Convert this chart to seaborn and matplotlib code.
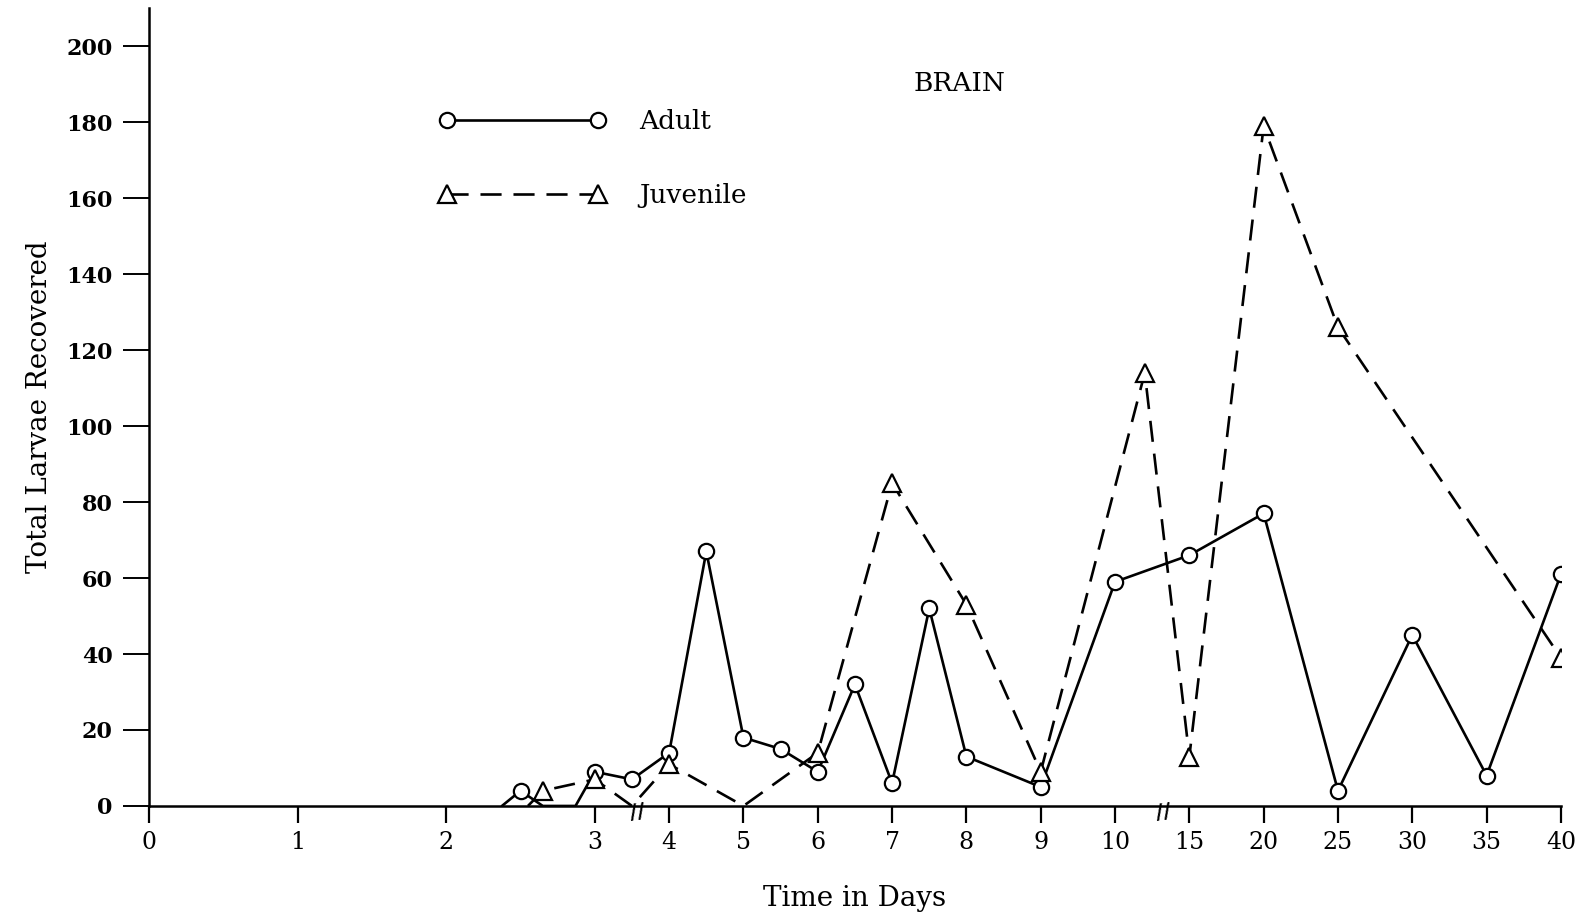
import numpy as np
import pandas as pd
import matplotlib
matplotlib.use("Agg")
import matplotlib.pyplot as plt
import seaborn as sns

# ---------------- data ----------------
tick_days = [0, 1, 2, 3, 4, 5, 6, 7, 8, 9, 10, 15, 20, 25, 30, 35, 40]
tick_labels = [str(d) for d in tick_days]
y_ticks = [0, 20, 40, 60, 80, 100, 120, 140, 160, 180, 200]

adult_days = [2.375, 2.5, 2.65, 2.87, 3, 3.5, 4, 4.5, 5, 5.5, 6, 6.5, 7, 7.5, 8, 9, 10, 15, 20, 25, 30, 35, 40]
adult_vals = [0, 4, 0, 0, 9, 7, 14, 67, 18, 15, 9, 32, 6, 52, 13, 5, 59, 66, 77, 4, 45, 8, 61]
adult_obs = [False, True, False, False, True, True, True, True, True, True, True, True, True, True, True, True, True, True, True, True, True, True, True]

juv_days = [2.55, 2.65, 3, 3.5, 4, 5, 6, 7, 8, 9, 12, 15, 20, 25, 40]
juv_vals = [0, 4, 7, 0, 11, 0, 14, 85, 53, 9, 114, 13, 179, 126, 39]
juv_obs = [False, True, True, False, True, False, True, True, True, True, True, True, True, True, True]

# ---------------- style ----------------
sns.set_style("white")
plt.rcParams['font.family'] = ['DejaVu Serif', 'DejaVu Sans']
plt.rcParams['text.color'] = 'black'
plt.rcParams['axes.labelcolor'] = 'black'

fig = plt.figure(figsize=(15.81, 9.14), dpi=100)
ax = fig.add_axes([0.0942, 0.1182, 0.8931, 0.8728])

# piecewise-linear broken time axis: each labelled tick is one slot,
# except 0-3 where days are two slots wide
tick_units = [0, 2, 4, 6, 7, 8, 9, 10, 11, 12, 13, 14, 15, 16, 17, 18, 19]
def fwd(x):
    return np.interp(x, tick_days, tick_units)
def inv(u):
    return np.interp(u, tick_units, tick_days)
ax.set_xscale('function', functions=(fwd, inv))

adult = pd.DataFrame({"day": adult_days, "val": adult_vals})
juv = pd.DataFrame({"day": juv_days, "val": juv_vals})

lw = 1.9
sns.lineplot(data=adult, x="day", y="val", ax=ax, estimator=None, sort=False,
             color="black", linewidth=lw, marker="o", markersize=11,
             markerfacecolor="white", markeredgecolor="black", markeredgewidth=1.6,
             markevery=[i for i, o in enumerate(adult_obs) if o], label="Adult")
sns.lineplot(data=juv, x="day", y="val", ax=ax, estimator=None, sort=False,
             color="black", linewidth=lw, marker="^", markersize=13,
             markerfacecolor="white", markeredgecolor="black", markeredgewidth=1.6,
             dashes=(8, 4.5), markevery=[i for i, o in enumerate(juv_obs) if o],
             label="Juvenile")

ax.set_xlim(0, 40)
ax.set_ylim(0, 210)
ax.set_xticks(tick_days)
ax.set_xticklabels(tick_labels)
ax.set_yticks(y_ticks)
ax.set_yticklabels([str(v) for v in y_ticks])

for s in ["top", "right"]:
    ax.spines[s].set_visible(False)
for s in ["left", "bottom"]:
    ax.spines[s].set_linewidth(1.8)
    ax.spines[s].set_color("black")

ax.tick_params(axis="x", direction="out", length=12, width=1.6, labelsize=17,
               pad=6, colors="black", bottom=True)
ax.tick_params(axis="y", direction="out", length=19, width=1.4, labelsize=16,
               pad=7, colors="black", left=True)
for t in ax.get_yticklabels():
    t.set_fontweight("bold")

ax.set_xlabel("Time in Days", fontsize=20, labelpad=22)
ax.set_ylabel("Total Larvae Recovered", fontsize=20, labelpad=10)

# axis break marks
for bx in (3.57, inv(13.65)):
    ax.text(bx, -1.5, "//", transform=ax.transData, ha="center", va="center",
            fontsize=15, fontweight="bold", rotation=8, clip_on=False)

ax.text(0.607, 0.909, "BRAIN", transform=fig.transFigure, fontsize=19,
        ha="center", va="center")

leg = ax.legend(loc="upper left", bbox_to_anchor=(0.263, 0.9065),
                bbox_transform=fig.transFigure, frameon=False, numpoints=2,
                handlelength=6.3, handletextpad=1.25, labelspacing=1.85,
                fontsize=19)

fig.savefig("out.png", dpi=100)
